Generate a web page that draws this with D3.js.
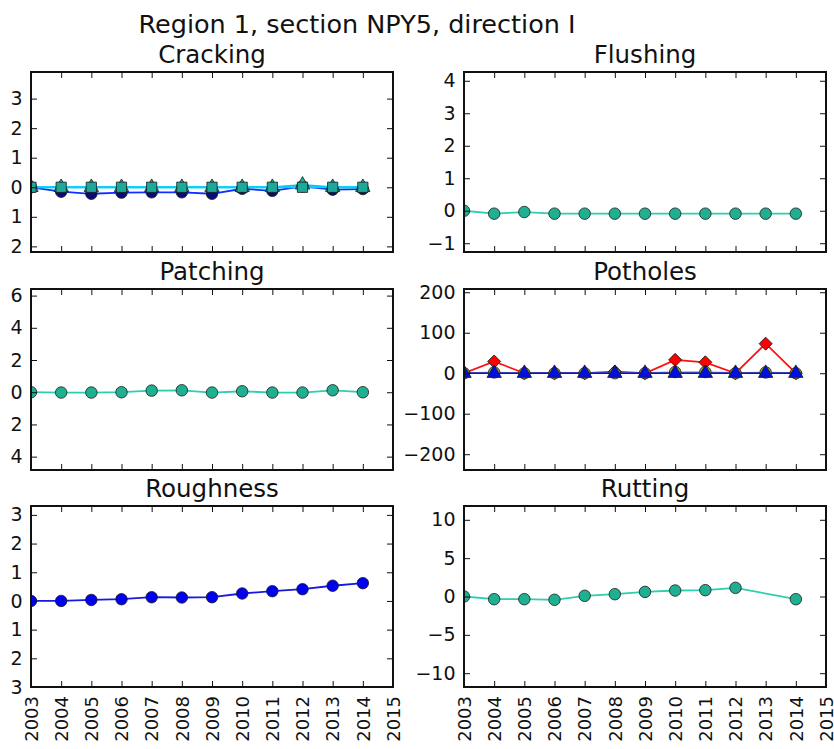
<!DOCTYPE html>
<html><head><meta charset="utf-8">
<script src="https://cdn.jsdelivr.net/npm/d3@7"></script>
<style>body{margin:0;background:#fff} svg{display:block;font-family:"DejaVu Sans",sans-serif}</style>
</head><body><svg id="c" width="834" height="749"></svg>
<script>
// ---- data ----
const years = [2003,2004,2005,2006,2007,2008,2009,2010,2011,2012,2013,2014];
const xTicks = [2003,2004,2005,2006,2007,2008,2009,2010,2011,2012,2013,2014,2015];
const mainTitle = "Region 1, section NPY5, direction I";
const panelTitles = ["Cracking","Flushing","Patching","Potholes","Roughness","Rutting"];

const crackingNavy = [0,-0.15,-0.22,-0.18,-0.17,-0.17,-0.22,-0.05,-0.12,0.03,-0.08,-0.06];
const crackingTri  = [0,0,0,0,0,0,0,0,0,0.08,0,0];
const crackingCyan = [0,0,0,0,0,0,0,0,0,0,0,0];
const flushing     = [0,-0.09,-0.04,-0.09,-0.09,-0.09,-0.09,-0.09,-0.09,-0.09,-0.09,-0.09];
const patching     = [0,-0.02,-0.02,0,0.1,0.12,-0.02,0.06,-0.02,-0.02,0.12,0];
const potholesRed  = [0,29,0,0,0,4,0,33,27,0,73,0];
const potholesYel  = [0,2,0,0,0,0,0,3,3,0,2,0];
const potholesBlue = [0,0,0,0,0,0,0,0,0,0,0,0];
const roughness    = [0,0,0.035,0.06,0.13,0.12,0.13,0.26,0.34,0.41,0.53,0.62];
const rutting      = [0,-0.35,-0.35,-0.43,0.09,0.3,0.6,0.78,0.83,1.13,null,-0.35];

const yTicksCracking = [-2,-1,0,1,2,3];
const yTicksFlushing = [-1,0,1,2,3,4];
const yTicksPatching = [-4,-2,0,2,4,6];
const yTicksPotholes = [-200,-100,0,100,200];
const yTicksRoughness = [-3,-2,-1,0,1,2,3];
const yTicksRutting = [-10,-5,0,5,10];

const yDomCracking = [-2.19,3.9];
const yDomFlushing = [-1.27,4.27];
const yDomPatching = [-4.83,6.41];
const yDomPotholes = [-239,208];
const yDomRoughness = [-3,3.31];
const yDomRutting = [-11.8,11.8];

// ---- layout / styles ----
const cols = [[31,393],[464,826]];
const rows = [[72,252],[289,470],[506,687]];
const teal = "#1fb092", tealLine = "#2ccfae";

const panels = [
  {title:panelTitles[0], c:0, r:0, dom:yDomCracking, ticks:yTicksCracking, series:[
    {v:crackingNavy, line:"#1030ff", fill:"#0a0a80", m:"circle"},
    {v:crackingTri, line:"#00c8e8", fill:teal, m:"triangle"},
    {v:crackingCyan, line:"#00d0ff", fill:"#1ea89a", m:"square"}]},
  {title:panelTitles[1], c:1, r:0, dom:yDomFlushing, ticks:yTicksFlushing, series:[
    {v:flushing, line:tealLine, fill:teal, m:"circle"}]},
  {title:panelTitles[2], c:0, r:1, dom:yDomPatching, ticks:yTicksPatching, series:[
    {v:patching, line:tealLine, fill:teal, m:"circle"}]},
  {title:panelTitles[3], c:1, r:1, dom:yDomPotholes, ticks:yTicksPotholes, series:[
    {v:potholesRed, line:"#ff1010", fill:"#ff0000", m:"diamond"},
    {v:potholesYel, line:"#d8d000", fill:"#9aa830", m:"circle"},
    {v:potholesBlue, line:"#0010ff", fill:"#0010e0", m:"triangle"}]},
  {title:panelTitles[4], c:0, r:2, dom:yDomRoughness, ticks:yTicksRoughness, series:[
    {v:roughness, line:"#1818e0", fill:"#0000f0", m:"circle"}]},
  {title:panelTitles[5], c:1, r:2, dom:yDomRutting, ticks:yTicksRutting, series:[
    {v:rutting, line:tealLine, fill:teal, m:"circle"}]}
];

const svg = d3.select("#c");
svg.append("rect").attr("width",834).attr("height",749).attr("fill","#fff");

svg.append("text").attr("x",357).attr("y",33).attr("text-anchor","middle")
  .attr("font-size",25.5).attr("fill","#111").text(mainTitle);

const defs = svg.append("defs");
defs.append("clipPath").attr("id","leftcut").append("rect")
  .attr("x",9).attr("y",0).attr("width",834).attr("height",749);

const fmt = v => v < 0 ? "\u2212" + Math.abs(v) : String(v);
const symbols = {
  circle: d3.symbol().type(d3.symbolCircle).size(104),
  square: d3.symbol().type(d3.symbolSquare).size(105),
  triangle: d3.symbol().type(d3.symbolTriangle).size(90),
  diamond: d3.symbol().type(d3.symbolSquare).size(85)
};

panels.forEach((p,i) => {
  const [x0,x1] = cols[p.c], [y0,y1] = rows[p.r];
  const x = d3.scaleLinear().domain([2003,2015]).range([x0,x1]);
  const y = d3.scaleLinear().domain(p.dom).range([y1,y0]);
  const g = svg.append("g");

  // title
  g.append("text").attr("x",(x0+x1)/2).attr("y",y0-9.5).attr("text-anchor","middle")
    .attr("font-size",24.5).attr("fill","#111").text(p.title);

  // data with clipping
  const cid = "clip"+i;
  defs.append("clipPath").attr("id",cid).append("rect")
    .attr("x",x0).attr("y",y0).attr("width",x1-x0).attr("height",y1-y0);
  const dg = g.append("g").attr("clip-path",`url(#${cid})`);
  p.series.forEach(s => {
    const pts = years.map((yr,k)=>({yr, v:s.v[k]})).filter(d => d.v !== null);
    dg.append("path").datum(pts)
      .attr("d", d3.line().x(d=>x(d.yr)).y(d=>y(d.v)))
      .attr("fill","none").attr("stroke",s.line).attr("stroke-width",1.8);
  });
  p.series.forEach(s => {
    const pts = years.map((yr,k)=>({yr, v:s.v[k]})).filter(d => d.v !== null);
    dg.selectAll(null).data(pts).enter().append("path")
      .attr("d", symbols[s.m]())
      .attr("transform", d => `translate(${x(d.yr)},${y(d.v)})` + (s.m==="diamond"?" rotate(45)":""))
      .attr("fill", s.fill).attr("stroke","#1a1a1a").attr("stroke-width",0.8);
  });

  // axes (ticks inside on all four sides)
  const bottom = g.append("g").attr("transform",`translate(0,${y1})`)
    .call(d3.axisBottom(x).tickValues(xTicks).tickSize(-6).tickPadding(9)
      .tickFormat(p.r===2 ? d3.format("d") : ""));
  g.append("g").attr("transform",`translate(0,${y0})`)
    .call(d3.axisTop(x).tickValues(xTicks).tickSize(-6).tickFormat(""));
  const leftWrap = g.append("g");
  leftWrap.append("g").attr("transform",`translate(${x0},0)`)
    .call(d3.axisLeft(y).tickValues(p.ticks).tickSize(-6).tickPadding(8.5).tickFormat(fmt));
  g.append("g").attr("transform",`translate(${x1},0)`)
    .call(d3.axisRight(y).tickValues(p.ticks).tickSize(-6).tickFormat(""));
  g.selectAll(".domain").remove();
  g.selectAll(".tick line").attr("stroke","#111").attr("stroke-width",1);
  g.selectAll(".tick text").attr("font-size",19).attr("fill","#111")
    .attr("font-family","DejaVu Sans, sans-serif");
  if (p.c===0) leftWrap.attr("clip-path","url(#leftcut)");
  if (p.r===2) {
    bottom.selectAll(".tick text")
      .attr("font-size",18)
      .attr("transform","rotate(-90)").attr("text-anchor","end")
      .attr("x",-9).attr("y",0).attr("dy","0.35em");
  }
  // frame
  g.append("rect").attr("x",x0).attr("y",y0).attr("width",x1-x0).attr("height",y1-y0)
    .attr("fill","none").attr("stroke","#111").attr("stroke-width",2);
});
</script></body></html>
